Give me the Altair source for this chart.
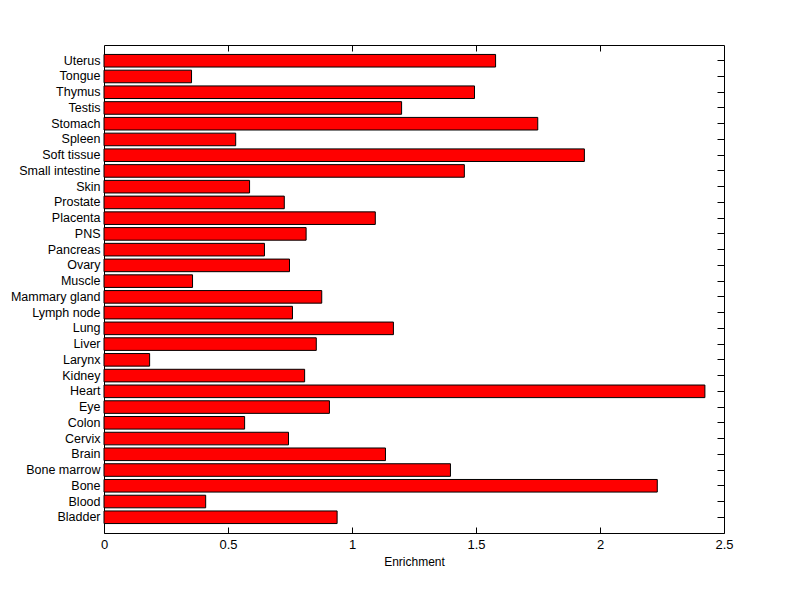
import altair as alt
import pandas as pd

tissues = ["Uterus", "Tongue", "Thymus", "Testis", "Stomach", "Spleen", "Soft tissue",
           "Small intestine", "Skin", "Prostate", "Placenta", "PNS", "Pancreas", "Ovary",
           "Muscle", "Mammary gland", "Lymph node", "Lung", "Liver", "Larynx", "Kidney",
           "Heart", "Eye", "Colon", "Cervix", "Brain", "Bone marrow", "Bone", "Blood", "Bladder"]
enrichment = [1.579, 0.353, 1.494, 1.200, 1.749, 0.531, 1.937,
              1.453, 0.587, 0.727, 1.094, 0.815, 0.647, 0.748,
              0.357, 0.878, 0.760, 1.167, 0.856, 0.184, 0.809,
              2.423, 0.909, 0.567, 0.744, 1.135, 1.397, 2.231, 0.410, 0.940]
x_ticks = [0, 0.5, 1, 1.5, 2, 2.5]
x_inner_ticks = [0.5, 1, 1.5, 2]

df = pd.DataFrame({"tissue": tissues, "value": enrichment})

FONT = "Liberation Sans"
FS = 12.5
xscale = alt.Scale(domain=[0, 2.5], nice=False, zero=True)
yscale = alt.Scale(paddingInner=0.2, paddingOuter=0.6)

base = alt.Chart(df)

bars = base.mark_bar(color="#ff0000", stroke="black", strokeWidth=1).encode(
    x=alt.X("value:Q", scale=xscale,
            axis=alt.Axis(values=x_ticks, format="~g", offset=-6, tickSize=6,
                          tickColor="black", domain=False, grid=False,
                          labelFlush=False, labelBound=False, labelOverlap=False,
                          labelPadding=5, labelFont=FONT, labelFontSize=13,
                          labelColor="black", title="Enrichment", titleFont=FONT,
                          titleFontSize=12, titleFontWeight="normal",
                          titleColor="black", titlePadding=5)),
    y=alt.Y("tissue:N", sort=tissues, scale=yscale,
            axis=alt.Axis(title=None, tickSize=0, domain=False, labelPadding=4,
                          labelOverlap=False,
                          labelFont=FONT, labelFontSize=FS, labelColor="black")),
)

frame_ticks = base.mark_bar(opacity=0).encode(
    x=alt.X("value:Q", scale=xscale,
            axis=alt.Axis(orient="top", values=x_inner_ticks, offset=-6, tickSize=6,
                          tickColor="black", labels=False, domain=False,
                          grid=False, title=None)),
    y=alt.Y("tissue:N", sort=tissues, scale=yscale,
            axis=alt.Axis(orient="right", offset=-7, tickSize=7, tickColor="black",
                          labels=False, domain=False, grid=False, title=None)),
)

chart = alt.layer(bars, frame_ticks).resolve_scale(
    x="independent", y="independent"
).properties(
    width=620, height=488,
    autosize=alt.AutoSizeParams(type="none"),
    padding={"left": 96, "top": 37, "right": 60, "bottom": 40},
    background="white",
).configure_view(stroke="black", strokeWidth=1)

chart.save("out.html", embed_options={"renderer": "svg", "actions": False})
